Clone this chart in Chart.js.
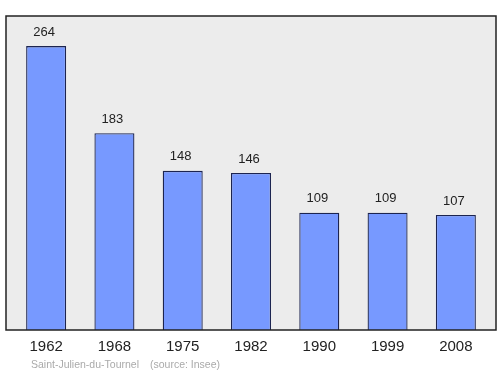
<!DOCTYPE html>
<html><head><meta charset="utf-8">
<script src="https://cdn.jsdelivr.net/npm/chart.js@4/dist/chart.umd.min.js"></script>
<style>html,body{margin:0;padding:0;background:#fff}#w{width:500px;height:374px}</style>
</head><body><div id="w"><canvas id="c" width="500" height="374"></canvas></div>
<script>
const years = ["1962","1968","1975","1982","1990","1999","2008"];
const population = [264,183,148,146,109,109,107];
const sourceName = "Saint-Julien-du-Tournel";
const sourceRef = "(source: Insee)";

const deco = {
  id:'deco',
  beforeDraw(chart){
    const ctx = chart.ctx, a = chart.chartArea;
    ctx.save();
    ctx.fillStyle = '#ececec';
    ctx.fillRect(6, a.top, 490, a.bottom - a.top);
    ctx.restore();
  },
  afterDatasetsDraw(chart){
    const ctx = chart.ctx, a = chart.chartArea;
    ctx.save();
    ctx.strokeStyle = '#222';
    ctx.lineWidth = 1.5;
    ctx.strokeRect(6, a.top, 490, a.bottom - a.top);
    const meta = chart.getDatasetMeta(0);
    ctx.fillStyle = '#222';
    ctx.textAlign = 'center';
    ctx.textBaseline = 'middle';
    ctx.font = '13px "Liberation Sans", Arial, sans-serif';
    meta.data.forEach((b,i)=>{
      ctx.fillText(String(population[i]), b.x - 2, b.y - 14);
    });
    const xs = chart.scales.x;
    ctx.font = '15px "Liberation Sans", Arial, sans-serif';
    years.forEach((y,i)=>{
      ctx.fillText(y, xs.getPixelForValue(i), 347);
    });
    ctx.fillStyle = '#aaaaaa';
    ctx.textAlign = 'left';
    ctx.font = '10.5px "Liberation Sans", Arial, sans-serif';
    ctx.fillText(sourceName, 31, 365);
    ctx.fillText(sourceRef, 150, 365);
    ctx.restore();
  }
};

new Chart(document.getElementById('c'), {
  type:'bar',
  data:{labels:years, datasets:[{data:population, backgroundColor:'#7799ff', borderColor:'#1c2450', borderWidth:1.3, borderSkipped:'bottom', categoryPercentage:1, barPercentage:0.586}]},
  options:{
    responsive:false, animation:false, devicePixelRatio:1,
    layout:{padding:{left:12, right:10, top:16, bottom:44}},
    plugins:{legend:{display:false}, tooltip:{enabled:false}},
    scales:{
      x:{display:false},
      y:{display:false, min:0, max:292}
    }
  },
  plugins:[deco]
});
</script>
</body></html>
